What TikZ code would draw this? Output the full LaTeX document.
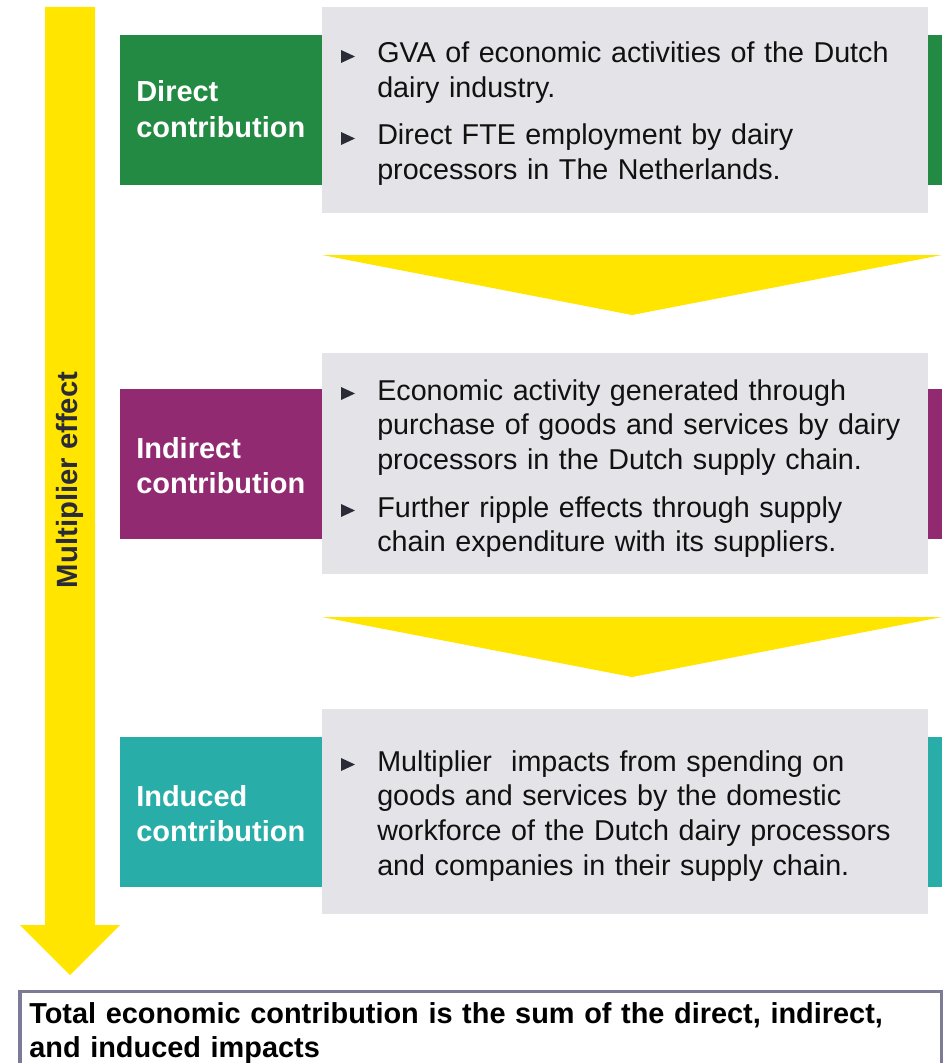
\documentclass[tikz,border=0pt]{standalone}
\usepackage{fontspec}
\setmainfont{Liberation Sans}
\usepackage{xcolor}
\definecolor{dgreen}{HTML}{228A42}
\definecolor{dpurple}{HTML}{912A70}
\definecolor{dteal}{HTML}{28ADA8}
\definecolor{boxgray}{HTML}{E3E3E8}
\definecolor{arrowyellow}{HTML}{FFE500}
\definecolor{framegray}{HTML}{7B7B97}
\definecolor{bodyink}{HTML}{111111}
\definecolor{markink}{HTML}{2B2B38}
\tikzset{blocklabel/.style={anchor=base west, inner sep=0pt, align=left, text width=5cm,
   text=white, font=\bfseries\fontsize{20.6}{25.2}\selectfont},
 bodytext/.style={anchor=base west, inner sep=0pt, align=left, text width=14cm,
   text=bodyink, font=\fontsize{20.4}{24.8}\selectfont},
 multtext/.style={inner sep=0pt, text=markink, font=\bfseries\fontsize{20.8}{24.8}\selectfont},
 totaltext/.style={anchor=base west, inner sep=0pt, align=left, text width=22.5cm,
   text=black, font=\bfseries\fontsize{20.55}{24.8}\selectfont},
 }

\begin{document}
\begin{tikzpicture}[x=0.025cm,y=-0.025cm]
        \useasboundingbox (0,0) rectangle (949,1063);
        \clip (0,0) rectangle (949,1063);

        \fill[arrowyellow] (45,7) -- (95,7) -- (95,925) -- (120,925) -- (70,975) -- (20,925) -- (45,925) -- cycle;
        \node[multtext, rotate=90] (mult) at (70,480) {Multiplier effect};

        \fill[dgreen] (120,35) rectangle (942,185);
        \fill[boxgray] (322,7) rectangle (928,213);
        \node[blocklabel] (directlab) at (136,102) {Direct\\contribution};
        \node[bodytext] (directa) at (377,63) {GVA of economic activities of the Dutch\\dairy industry.};
        \node[bodytext] (directb) at (377,145) {Direct FTE employment by dairy\\processors in The Netherlands.};

        \fill[arrowyellow] (322,255) -- (942,255) -- (632,315) -- cycle;

        \fill[dpurple] (120,389) rectangle (942,539);
        \fill[boxgray] (322,353) rectangle (928,574);
        \node[blocklabel] (indirectlab) at (136,458) {Indirect\\contribution};
        \node[bodytext] (indirecta) at (377,400) {Economic activity generated through\\purchase of goods and services by dairy\\processors in the Dutch supply chain.};
        \node[bodytext] (indirectb) at (377,517) {Further ripple effects through supply\\chain expenditure with its suppliers.};

        \fill[arrowyellow] (322,617) -- (942,617) -- (632,677) -- cycle;

        \fill[dteal] (120,737) rectangle (942,887);
        \fill[boxgray] (322,709) rectangle (928,914);
        \node[blocklabel] (inducedlab) at (136,806) {Induced\\contribution};
        \node[bodytext] (induceda) at (377,771) {Multiplier\ \ impacts from spending on\\goods and services by the domestic\\workforce of the Dutch dairy processors\\and companies in their supply chain.};

        \foreach \b in {63,145,400,517,771}
          \fill[markink] (341,\b) -- ++(0,-13) -- ++(14,6.5) -- cycle;

        \draw[framegray, line width=2.4pt] (20,991.7) rectangle (941.7,1100);
        \node[totaltext] (total) at (29,1023) {Total economic contribution is the sum of the direct, indirect,\\and induced impacts};
\end{tikzpicture}
\end{document}
